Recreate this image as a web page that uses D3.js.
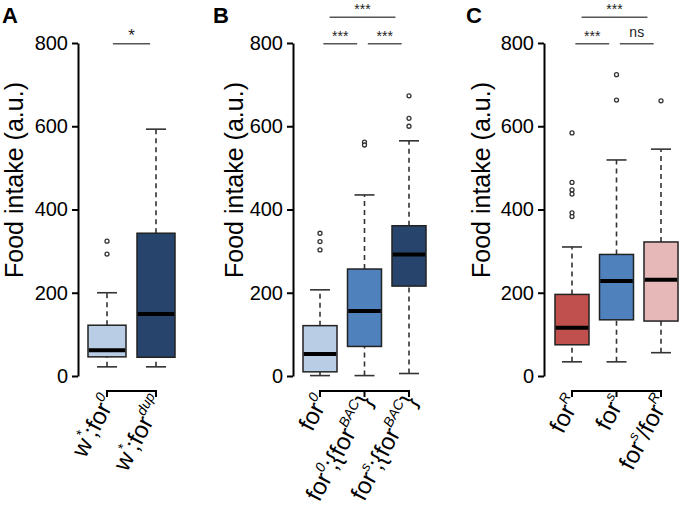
<!DOCTYPE html>
<html>
<head>
<meta charset="utf-8">
<script src="https://cdn.jsdelivr.net/npm/d3@7"></script>
<style>
  body { margin: 0; background: #fff; }
  text { font-family: "Liberation Sans", Arial, Helvetica, sans-serif; }
</style>
</head>
<body>
<div id="chart"></div>
<script>
// ---- data ----
// group labels as [text, superscript?] pieces
var labelsA = [[["w",0],["*",1],[";for",0],["0",1]],
               [["w",0],["*",1],[";for",0],["dup",1]]];
var labelsB = [[["for",0],["0",1]],
               [["for",0],["0",1],[";{for",0],["BAC",1],["}",0]],
               [["for",0],["s",1],[";{for",0],["BAC",1],["}",0]]];
var labelsC = [[["for",0],["R",1]],
               [["for",0],["s",1]],
               [["for",0],["s",1],["/for",0],["R",1]]];

// [whisker low, Q1, median, Q3, whisker high]
var statsA = [[22, 46, 62, 122, 200], [22, 45, 149, 343, 593]];
var statsB = [[1, 10, 53, 121, 207], [1, 71, 156, 257, 435], [6, 216, 292, 361, 565]];
var statsC = [[34, 75, 116, 196, 310], [34, 135, 228, 292, 519], [56, 132, 231, 322, 545]];

var outliersA = [[324, 293], []];
var outliersB = [[343, 323, 303], [562, 555], [673, 619, 600]];
var outliersC = [[584, 465, 447, 437, 392, 383], [724, 663], [661]];

var colorsA = ["#b9cde5", "#26446c"];
var colorsB = ["#b9cde5", "#4f81bd", "#26446c"];
var colorsC = ["#c0504d", "#4f81bd", "#e6b9b8"];

// [from group, to group, row, label]
var sigA = [[0, 1, 0, "*"]];
var sigB = [[0, 1, 0, "***"], [1, 2, 0, "***"], [0, 2, 1, "***"]];
var sigC = [[0, 1, 0, "***"], [1, 2, 0, "ns"], [0, 2, 1, "***"]];

var yTicks = [0, 200, 400, 600, 800];

// ---- layout ----
var W = 680, H = 518;
var svg = d3.select("#chart").append("svg")
  .attr("width", W).attr("height", H);

var y = d3.scaleLinear().domain([0, 800]).range([376, 43]);

var panels = [
  {letter: "A", labels: labelsA, stats: statsA, out: outliersA, colors: colorsA, sig: sigA,
   ax: 78, x0: 107, x1: 156, bw: 38, lx: 2, ylx: 23, shift: 0, starSize: 17},
  {letter: "B", labels: labelsB, stats: statsB, out: outliersB, colors: colorsB, sig: sigB,
   ax: 293, x0: 320, x1: 409, bw: 34, lx: 213, ylx: 243, shift: -2, starSize: 14},
  {letter: "C", labels: labelsC, stats: statsC, out: outliersC, colors: colorsC, sig: sigC,
   ax: 544, x0: 572, x1: 661, bw: 34, lx: 466, ylx: 490, shift: -2, starSize: 14}
];

panels.forEach(function(p) {
  var g = svg.append("g");
  var idx = d3.range(p.stats.length);
  var x = d3.scalePoint().domain(idx).range([p.x0, p.x1]);

  // panel letter
  g.append("text")
    .attr("x", p.lx).attr("y", 23)
    .attr("font-size", 22).attr("font-weight", "bold")
    .text(p.letter);

  // y axis
  var axis = g.append("g")
    .attr("transform", "translate(" + p.ax + ",0)")
    .call(d3.axisLeft(y).tickValues(yTicks).tickSize(6).tickSizeOuter(0).tickPadding(4));
  axis.selectAll("path, line").attr("stroke", "#000").attr("stroke-width", 2);
  axis.selectAll("text").attr("font-size", 20).attr("fill", "#000")
    .style("font-family", '"Liberation Sans", Arial, sans-serif');

  g.append("text")
    .attr("transform", "translate(" + p.ylx + ",180) rotate(-90)")
    .attr("text-anchor", "middle")
    .attr("font-size", 25)
    .text("Food intake (a.u.)");

  // boxes
  var box = g.selectAll(".box").data(p.stats).enter().append("g");
  // dashed whiskers
  box.append("line")
    .attr("x1", function(d, i) { return x(i); }).attr("x2", function(d, i) { return x(i); })
    .attr("y1", function(d) { return y(d[0]); }).attr("y2", function(d) { return y(d[1]); })
    .attr("stroke", "#333").attr("stroke-width", 1.6).attr("stroke-dasharray", "5,4");
  box.append("line")
    .attr("x1", function(d, i) { return x(i); }).attr("x2", function(d, i) { return x(i); })
    .attr("y1", function(d) { return y(d[3]); }).attr("y2", function(d) { return y(d[4]); })
    .attr("stroke", "#333").attr("stroke-width", 1.6).attr("stroke-dasharray", "5,4");
  // caps
  [0, 4].forEach(function(k) {
    box.append("line")
      .attr("x1", function(d, i) { return x(i) - 10; }).attr("x2", function(d, i) { return x(i) + 10; })
      .attr("y1", function(d) { return y(d[k]); }).attr("y2", function(d) { return y(d[k]); })
      .attr("stroke", "#333").attr("stroke-width", 1.6);
  });
  box.append("rect")
    .attr("x", function(d, i) { return x(i) - p.bw / 2; })
    .attr("width", p.bw)
    .attr("y", function(d) { return y(d[3]); })
    .attr("height", function(d) { return y(d[1]) - y(d[3]); })
    .attr("fill", function(d, i) { return p.colors[i]; })
    .attr("stroke", "#222").attr("stroke-width", 1.5);
  box.append("line")
    .attr("x1", function(d, i) { return x(i) - p.bw / 2 + 0.75; })
    .attr("x2", function(d, i) { return x(i) + p.bw / 2 - 0.75; })
    .attr("y1", function(d) { return y(d[2]); }).attr("y2", function(d) { return y(d[2]); })
    .attr("stroke", "#000").attr("stroke-width", 4);

  // outliers
  p.out.forEach(function(arr, i) {
    g.selectAll(null).data(arr).enter().append("circle")
      .attr("cx", x(i)).attr("cy", function(v) { return y(v); })
      .attr("r", 2).attr("fill", "#fff").attr("stroke", "#333").attr("stroke-width", 1.3);
  });

  // significance bars
  p.sig.forEach(function(s) {
    var a = x(s[0]), b = x(s[1]);
    var mid = (a + b) / 2 + p.shift;
    var half = (b - a) / 2 * (s[2] === 0 ? 0.76 : 0.74);
    var ly = s[2] === 0 ? 43.7 : 17.3;
    g.append("line")
      .attr("x1", mid - half).attr("x2", mid + half)
      .attr("y1", ly).attr("y2", ly)
      .attr("stroke", "#555").attr("stroke-width", 1.5);
    var isStar = s[3].indexOf("*") >= 0;
    g.append("text")
      .attr("x", mid).attr("y", isStar ? ly - 3 : ly - 6.4)
      .attr("text-anchor", "middle")
      .attr("font-size", isStar ? p.starSize : 14)
      .attr("fill", "#222")
      .text(s[3]);
  });

  // bottom bracket
  g.append("line")
    .attr("x1", x(0)).attr("x2", x(idx.length - 1))
    .attr("y1", 391).attr("y2", 391)
    .attr("stroke", "#000").attr("stroke-width", 2);
  g.selectAll(null).data(idx).enter().append("line")
    .attr("x1", function(i) { return x(i); }).attr("x2", function(i) { return x(i); })
    .attr("y1", 390).attr("y2", 397)
    .attr("stroke", "#000").attr("stroke-width", 2);

  // rotated group labels
  p.labels.forEach(function(segs, i) {
    var t = g.append("text")
      .attr("transform", "translate(" + (x(i) + 9) + ",401) rotate(-62)")
      .attr("text-anchor", "end")
      .attr("font-size", 24);
    var up = false;
    segs.forEach(function(s) {
      var ts = t.append("tspan").text(s[0]);
      if (s[1]) {
        ts.attr("font-size", 14).attr("font-style", s[0] === "*" ? "normal" : "italic");
        if (!up) ts.attr("dy", -11);
        up = true;
      } else if (up) {
        ts.attr("dy", 11);
        up = false;
      }
    });
  });
});
</script>
</body>
</html>
